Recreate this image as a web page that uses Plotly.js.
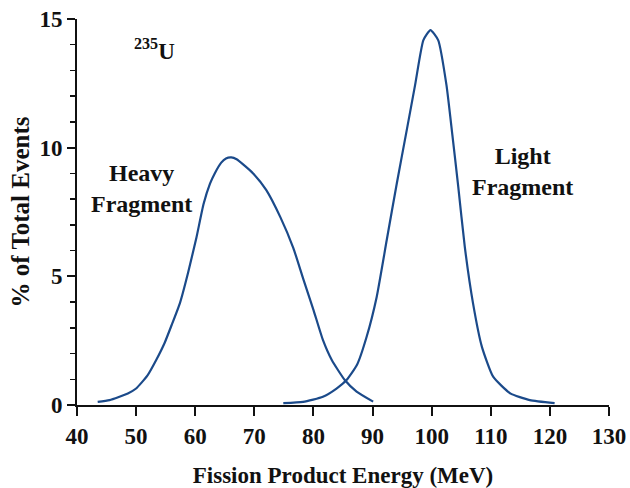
<!DOCTYPE html>
<html>
<head>
<meta charset="utf-8">
<script src="https://cdn.plot.ly/plotly-3.0.1.min.js"></script>
<style>
  html, body { margin: 0; padding: 0; background: #ffffff; }
  #chart { width: 630px; height: 488px; }
</style>
</head>
<body>
<div id="chart"></div>
<script>
// Heavy fragment energy distribution (MeV, % of total events)
const heavyEnergy = [43.5, 45.5, 48.6, 50.0, 51.9, 53.4, 54.8, 56.0, 57.4, 58.8, 60.2, 61.4, 62.5, 63.3, 64.4, 65.2, 66.1, 67.0, 68.1, 69.8, 72.0, 74.4, 76.6, 78.3, 80.0, 81.6, 83.1, 85.3, 87.3, 90.1];
const heavyPercent = [0.12, 0.19, 0.45, 0.64, 1.14, 1.75, 2.4, 3.1, 3.95, 5.15, 6.5, 7.8, 8.6, 9.0, 9.42, 9.58, 9.62, 9.55, 9.35, 9.0, 8.36, 7.3, 6.1, 4.88, 3.7, 2.53, 1.75, 0.97, 0.52, 0.13];

// Light fragment energy distribution
const lightEnergy = [74.9, 78.25, 81.6, 83.9, 85.6, 87.35, 89.0, 90.7, 92.4, 94.1, 95.8, 97.2, 98.6, 99.8, 101.1, 102.5, 103.5, 104.5, 105.6, 107.0, 108.5, 110.4, 113.3, 116.6, 120.8];
const lightPercent = [0.07, 0.12, 0.32, 0.64, 0.97, 1.55, 2.65, 4.2, 6.41, 8.61, 10.7, 12.44, 14.18, 14.57, 14.18, 12.44, 10.5, 8.48, 6.15, 3.95, 2.26, 1.1, 0.45, 0.19, 0.07];

const xTickVals = [40, 50, 60, 70, 80, 90, 100, 110, 120, 130];
const yTickVals = [0, 5, 10, 15];

const lineColor = '#1b4a8a';
const fontFam = '"Liberation Serif", "Times New Roman", serif';
const ink = '#111111';

const traces = [
  { x: heavyEnergy, y: heavyPercent, type: 'scatter', mode: 'lines', name: 'Heavy Fragment',
    line: { color: lineColor, width: 2.2, shape: 'spline', smoothing: 0.5 }, hoverinfo: 'x+y' },
  { x: lightEnergy, y: lightPercent, type: 'scatter', mode: 'lines', name: 'Light Fragment',
    line: { color: lineColor, width: 2.2, shape: 'spline', smoothing: 0.5 }, hoverinfo: 'x+y' }
];

const layout = {
  width: 630, height: 488,
  margin: { l: 77, r: 21, t: 19, b: 83 },
  paper_bgcolor: '#ffffff', plot_bgcolor: '#ffffff',
  showlegend: false,
  font: { family: fontFam, color: ink, size: 23, weight: 'bold' },
  xaxis: {
    range: [40, 130], tickvals: xTickVals, ticktext: xTickVals.map(String),
    showgrid: false, zeroline: false, showline: true, linecolor: ink, linewidth: 2,
    ticks: 'outside', ticklen: 9, tickwidth: 2, tickcolor: ink,
    tickfont: { family: fontFam, size: 23, weight: 'bold', color: ink },
    title: { text: 'Fission Product Energy (MeV)', font: { family: fontFam, size: 23, weight: 'bold', color: ink }, standoff: 20 }
  },
  yaxis: {
    range: [0, 15], tickvals: yTickVals, ticktext: yTickVals.map(String),
    showgrid: false, zeroline: false, showline: true, linecolor: ink, linewidth: 2,
    ticks: 'outside', ticklen: 8, tickwidth: 2, tickcolor: ink,
    minor: { dtick: 1, ticks: 'outside', ticklen: 5, tickwidth: 1.5, tickcolor: ink, showgrid: false },
    tickfont: { family: fontFam, size: 23, weight: 'bold', color: ink },
    title: { text: '% of Total Events', font: { family: fontFam, size: 25, weight: 'bold', color: ink }, standoff: 3 }
  },
  annotations: [
    { xref: 'paper', yref: 'paper', x: 0.146, y: 0.92, xanchor: 'center', yanchor: 'middle',
      text: '<sup>235</sup>U', showarrow: false,
      font: { family: fontFam, size: 23, weight: 'bold', color: ink } },
    { xref: 'paper', yref: 'paper', x: 0.122, y: 0.561, xanchor: 'center', yanchor: 'middle',
      text: 'Heavy<br>Fragment', showarrow: false, align: 'center',
      font: { family: fontFam, size: 24, weight: 'bold', color: ink } },
    { xref: 'paper', yref: 'paper', x: 0.838, y: 0.605, xanchor: 'center', yanchor: 'middle',
      text: 'Light<br>Fragment', showarrow: false, align: 'center',
      font: { family: fontFam, size: 24, weight: 'bold', color: ink } }
  ]
};

Plotly.newPlot('chart', traces, layout, { displayModeBar: false, staticPlot: true });
</script>
</body>
</html>
